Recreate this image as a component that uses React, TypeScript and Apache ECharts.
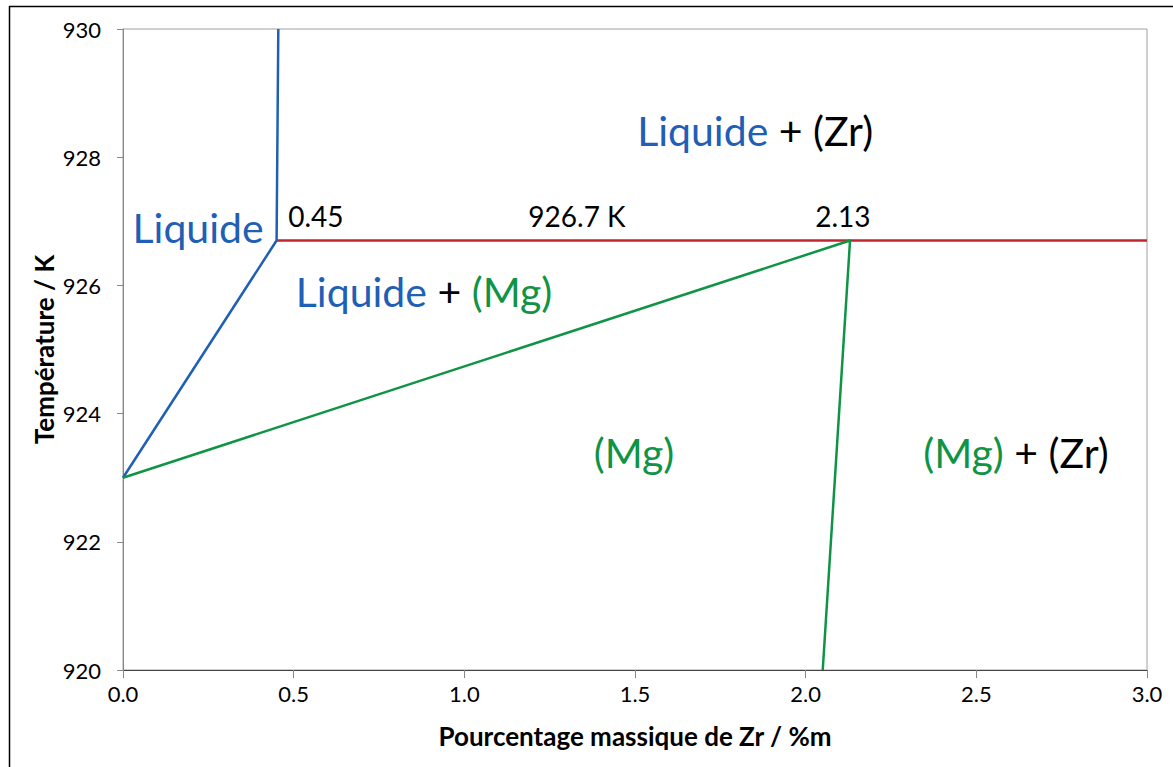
import React, { useEffect, useRef } from "react";
import * as echarts from "echarts";

const xTicks = [0, 0.5, 1.0, 1.5, 2.0, 2.5, 3.0];
const liquidusBlue: [number, number][] = [[0.455, 930], [0.45, 926.7], [0, 923]];
const peritectic: [number, number][] = [[0.45, 926.7], [3.0, 926.7]];
const solidusGreen: [number, number][] = [[0, 923], [2.13, 926.7], [2.05, 920]];

const regionLabels = [
  { pos: [0.22, 926.91], text: "{b|Liquide}" },
  { pos: [1.852, 928.41], text: "{b|Liquide}{k| + (Zr)}" },
  { pos: [0.882, 925.9], text: "{b|Liquide}{k| + }{g|(Mg)}" },
  { pos: [1.497, 923.39], text: "{g|(Mg)}" },
  { pos: [2.616, 923.39], text: "{g|(Mg)}{k| + (Zr)}" },
];
const pointLabels = [
  { pos: [0.565, 927.08], text: "0.45" },
  { pos: [1.33, 927.08], text: "926.7 K" },
  { pos: [2.109, 927.08], text: "2.13" },
];

const BLUE = "#1f5fb5";
const GREEN = "#0f9446";
const RED = "#c0262d";
const FONT = "Lato, 'Open Sans', sans-serif";

export default function App() {
  const ref = useRef<HTMLDivElement>(null);
  useEffect(() => {
    if (!ref.current) return;
    const chart = echarts.init(ref.current, null, { renderer: "svg" });
    const noBorder = { textBorderWidth: 0, textBorderColor: "transparent", opacity: 1 };
    const bigRich = {
      b: { color: BLUE, fontSize: 41, fontFamily: FONT, ...noBorder },
      g: { color: GREEN, fontSize: 41, fontFamily: FONT, ...noBorder },
      k: { color: "#000", fontSize: 41, fontFamily: FONT, ...noBorder },
    };
    chart.setOption({
      animation: false,
      backgroundColor: "#fff",
      textStyle: { fontFamily: FONT },
      grid: {
        left: 123,
        top: 29,
        right: 26,
        bottom: 97,
        show: true,
        borderColor: "#a0a0a0",
        borderWidth: 1,
      },
      xAxis: {
        type: "value",
        min: 0,
        max: 3,
        interval: 0.5,
        name: "Pourcentage massique de Zr / %m",
        nameLocation: "middle",
        nameGap: 53,
        nameTextStyle: { fontSize: 26, fontWeight: "bold", color: "#000", fontFamily: FONT },
        axisLine: { lineStyle: { color: "#444", width: 1 } },
        axisTick: { show: true, inside: false, length: 8, lineStyle: { color: "#888" } },
        axisLabel: {
          fontSize: 22,
          color: "#000",
          margin: 12,
          formatter: (v: number) => v.toFixed(1),
        },
        splitLine: { show: false },
      },
      yAxis: {
        type: "value",
        min: 920,
        max: 930,
        interval: 2,
        name: "Température / K",
        nameLocation: "middle",
        nameGap: 66,
        nameMoveOverlap: false,
        nameRotate: 90,
        nameTextStyle: { fontSize: 26, fontWeight: "bold", color: "#000", fontFamily: FONT },
        axisLine: { show: true, lineStyle: { color: "#888", width: 1 } },
        axisTick: { show: true, length: 6, lineStyle: { color: "#888" } },
        axisLabel: { fontSize: 22, color: "#000", margin: 22 },
        splitLine: { show: false },
      },
      graphic: [
        { type: "line", shape: { x1: 9.5, y1: 6, x2: 9.5, y2: 767 }, style: { stroke: "#000", lineWidth: 1.5 } },
        { type: "line", shape: { x1: 9, y1: 6.5, x2: 1173, y2: 6.5 }, style: { stroke: "#000", lineWidth: 1.5 } },
      ],
      series: [
        {
          type: "line",
          data: liquidusBlue,
          symbol: "none",
          lineStyle: { color: BLUE, width: 2.5 },
          z: 3,
        },
        {
          type: "line",
          data: peritectic,
          symbol: "none",
          lineStyle: { color: RED, width: 2.5 },
          z: 2,
        },
        {
          type: "line",
          data: solidusGreen,
          symbol: "none",
          lineStyle: { color: GREEN, width: 2.5 },
          z: 3,
        },
        {
          type: "scatter",
          symbolSize: 0,
          silent: true,
          itemStyle: { opacity: 1 },
          data: regionLabels.map((d) => ({
            value: d.pos,
            label: {
              show: true,
              position: "inside",
              formatter: d.text,
              rich: bigRich,
              ...noBorder,
            },
          })),
        },
        {
          type: "scatter",
          symbolSize: 0,
          silent: true,
          itemStyle: { opacity: 1 },
          data: pointLabels.map((d) => ({
            value: d.pos,
            label: {
              show: true,
              position: "inside",
              formatter: d.text,
              color: "#000",
              fontSize: 28,
              fontFamily: FONT,
              ...noBorder,
            },
          })),
        },
      ],
    });
    return () => chart.dispose();
  }, []);
  return (
    <div
      ref={ref}
      style={{ position: "fixed", left: 0, top: 0, width: 1173, height: 767, background: "#fff" }}
    />
  );
}
